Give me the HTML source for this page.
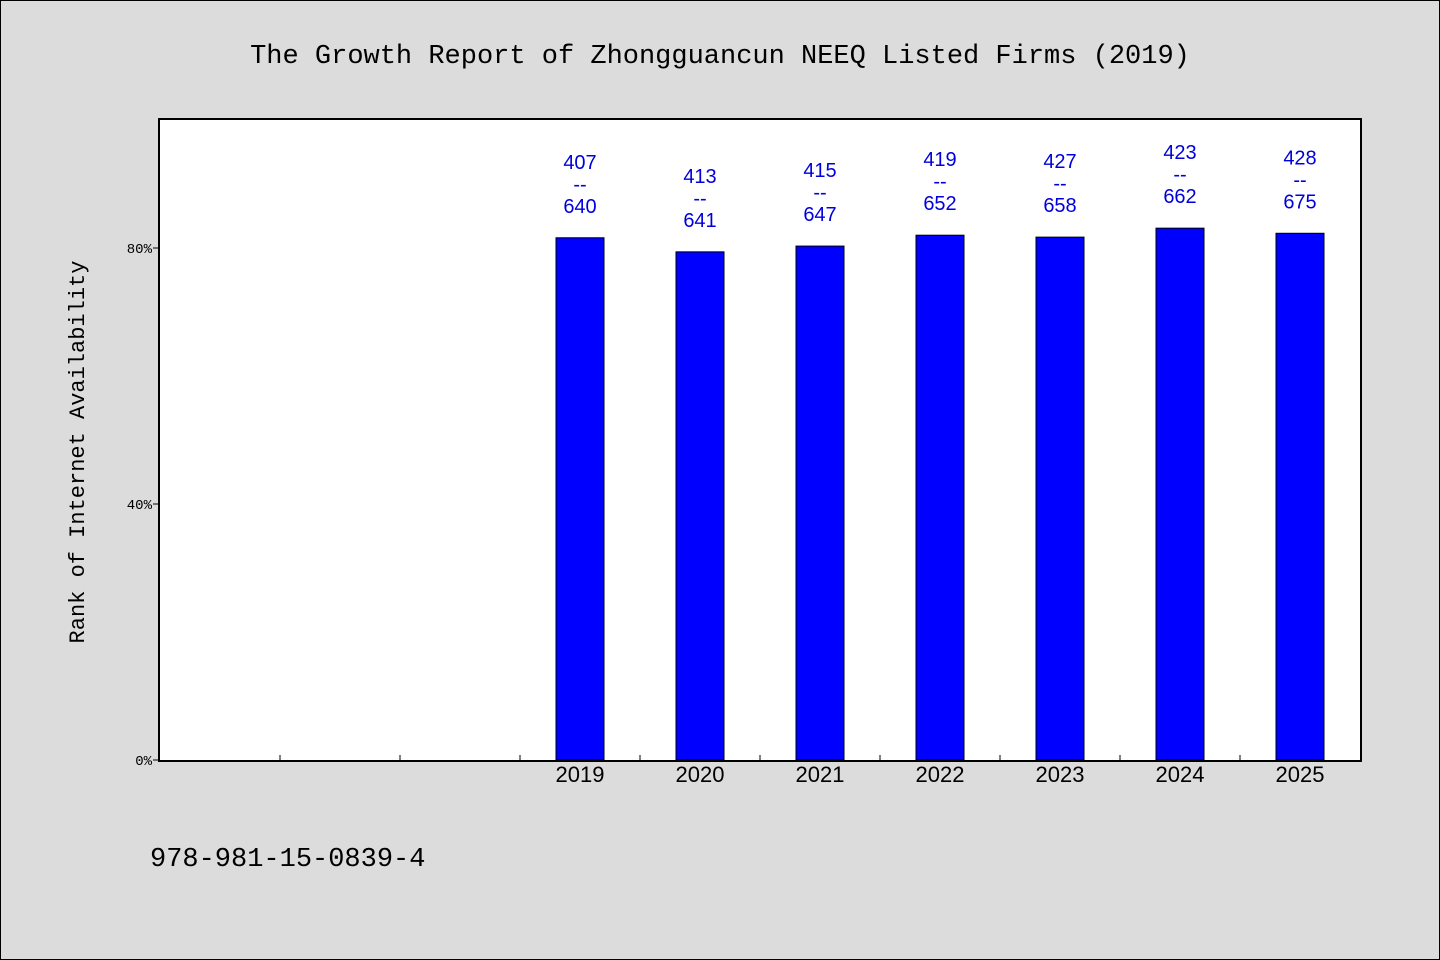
<!DOCTYPE html>
<html><head><meta charset="utf-8"><style>
body{margin:0;background:#dcdcdc;}
svg{display:block;}
</style></head><body>
<svg width="1440" height="960" xmlns="http://www.w3.org/2000/svg">
<rect x="0.5" y="0.5" width="1439" height="959" fill="#dcdcdc" stroke="#000"/>
<text x="720" y="63" text-anchor="middle" font-family="Liberation Mono, monospace" font-size="27">The Growth Report of Zhongguancun NEEQ Listed Firms (2019)</text>
<rect x="159" y="119" width="1202" height="642" fill="#fff" stroke="#000" stroke-width="2"/>
<text transform="translate(84,452) rotate(-90)" text-anchor="middle" font-family="Liberation Mono, monospace" font-size="22">Rank of Internet Availability</text>
<text x="150" y="866" font-family="Liberation Mono, monospace" font-size="27">978-981-15-0839-4</text>
<g id="axes"></g>
<g id="bars"></g>
</svg>
<script>
const categories=["","","","2019","2020","2021","2022","2023","2024","2025"];
const values=[null,null,null,81.6,79.4,80.3,82.0,81.7,83.1,82.3];
const topLabels=["","","","407","413","415","419","427","423","428"];
const bottomLabels=["","","","640","641","647","652","658","662","675"];
const yTicks=[0,40,80];
const NS="http://www.w3.org/2000/svg";
const x0=160,slot=120,yBase=760,pxPer=6.4;
const xs=i=>x0+slot*i+slot/2;
const ys=v=>yBase-v*pxPer;
const axes=document.getElementById('axes'),bars=document.getElementById('bars');
function mk(tag,attrs,parent,text){const e=document.createElementNS(NS,tag);for(const k in attrs)e.setAttribute(k,attrs[k]);if(text!==undefined)e.textContent=text;parent.appendChild(e);return e;}
yTicks.forEach(t=>{
  const l=mk('line',{x1:153,x2:159,y1:ys(t),y2:ys(t),stroke:'#000'},axes);
  
  
  const tx=mk('text',{x:152,y:ys(t)+5,'text-anchor':'end','font-family':'Liberation Mono, monospace','font-size':14},axes,t+'%');
  
  
});
categories.forEach((c,i)=>{
  if(i>0){const l=mk('line',{x1:x0+slot*i,x2:x0+slot*i,y1:755,y2:760,stroke:'#000'},axes);
  
  }
  if(c){const tx=mk('text',{x:xs(i),y:782,'text-anchor':'middle','font-family':'Liberation Sans, sans-serif','font-size':22},axes,c);
  
  }
  if(values[i]!=null){
    const y=ys(values[i]);
    const r=mk('rect',{x:xs(i)-24,y:y,width:48,height:yBase-y,fill:'#0000ff',stroke:'#000'},bars);
    
    
    const g=mk('text',{'text-anchor':'middle','font-family':'Liberation Sans, sans-serif','font-size':20,fill:'#0000dd'},bars);
    
    
    mk('tspan',{x:xs(i),y:y-69},g,topLabels[i]);
    mk('tspan',{x:xs(i),y:y-47},g,'--');
    mk('tspan',{x:xs(i),y:y-25},g,bottomLabels[i]);
  }
});
</script>
</body></html>
